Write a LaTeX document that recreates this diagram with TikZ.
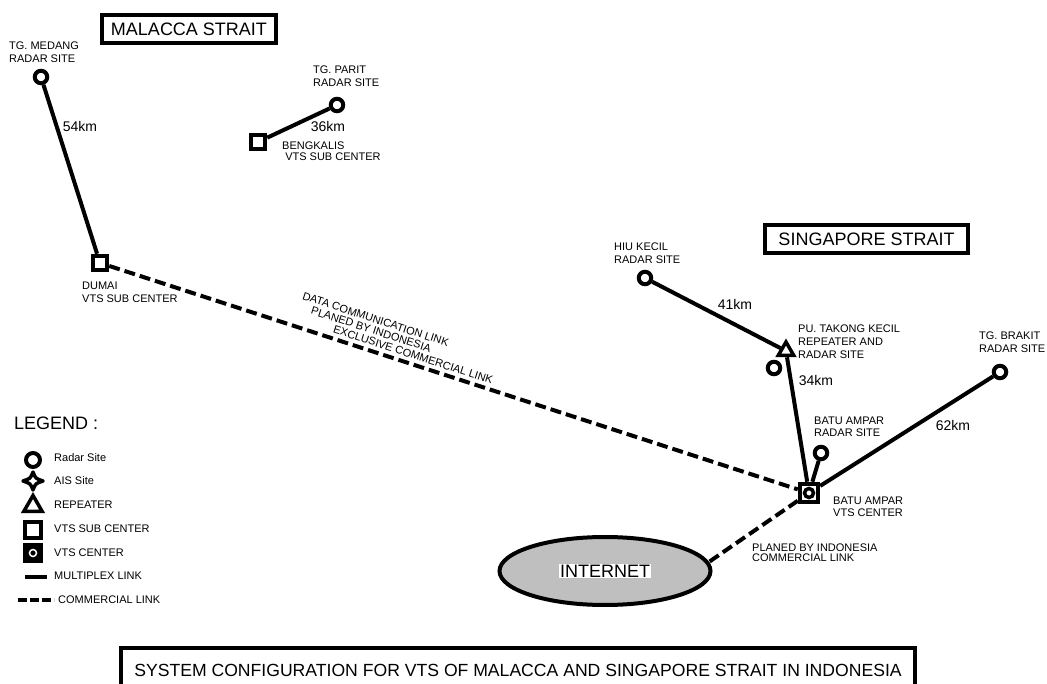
\documentclass[tikz,border=0pt]{standalone}
\usepackage{fontspec}
\setmainfont{Liberation Sans}
\usetikzlibrary{shapes.geometric}

\begin{document}
\begin{tikzpicture}[x=1pt, y=-1pt,
    radar/.style={draw, shape=circle, fill=white, line width=4pt, inner sep=0,
    minimum size=12.5pt},
    subcenter/.style={draw, shape=rectangle, fill=white, line width=4.5pt,
    inner sep=0, minimum size=14pt},
    vtscenter/.style={draw, shape=rectangle, fill=white, line width=4.5pt,
    inner sep=0, minimum size=18pt, path picture={\draw[line width=3.5pt]
    (path picture bounding box.center) circle[radius=4.5pt];}},
    repeater/.style={draw, shape=regular polygon, regular polygon sides=3,
    line width=3.5pt, inner sep=0, minimum size=18pt},
    lbl/.style={inner sep=0, anchor=west, align=left,
    font=\fontsize{11}{13}\selectfont},
    km/.style={inner sep=0, font=\fontsize{14}{16}\selectfont},
    titlebox/.style={draw, line width=4pt, inner sep=0,
    font=\fontsize{18}{20}\selectfont},
    link/.style={line width=4pt},
    comm/.style={line width=4pt, dash pattern=on 11pt off 5pt}]

    \clip (0, 0) rectangle (1047, 684);

    % Titles
    \node[titlebox, minimum width=174pt, minimum height=28pt] (malacca)
    at (189, 29) {MALACCA STRAIT};
    \node[titlebox, minimum width=203pt, minimum height=28pt] (singapore)
    at (866.5, 239) {SINGAPORE STRAIT};
    \node[titlebox, minimum width=794pt, minimum height=44pt,
    font=\fontsize{17.6}{20}\selectfont] (config) at (518, 670)
    {SYSTEM CONFIGURATION FOR VTS OF MALACCA AND SINGAPORE STRAIT IN INDONESIA};

    % Sites
    \node[radar] (medang) at (41, 77) {};
    \node[radar] (parit) at (337, 105) {};
    \node[subcenter] (bengkalis) at (258, 142) {};
    \node[subcenter] (dumai) at (100, 263) {};
    \node[radar] (hiu) at (645, 278) {};
    \node[repeater] (takong) at (786, 351) {};
    \node[radar] (takongradar) at (774, 368) {};
    \node[radar] (brakit) at (1000, 372) {};
    \node[radar] (amparradar) at (821, 453) {};
    \node[vtscenter] (ampar) at (809, 493) {};
    \node[draw, shape=ellipse, fill=gray!50, line width=4pt,
    minimum width=211pt, minimum height=68pt] (internet) at (605, 571) {};
    \node[fill=white, inner sep=1pt, font=\fontsize{18}{20}\selectfont]
    (internettxt) at (internet.center) {INTERNET};

    % Site labels
    \node[lbl] (medangtxt) at (9, 52.5) {TG. MEDANG\\RADAR SITE};
    \node[lbl] (parittxt) at (313, 76.5) {TG. PARIT\\RADAR SITE};
    \node[lbl] (bengkalistxt) at (282, 151.5)
    {BENGKALIS\\[-1.7pt]\ VTS SUB CENTER};
    \node[lbl] (dumaitxt) at (82, 292.5) {DUMAI\\VTS SUB CENTER};
    \node[lbl] (hiutxt) at (614, 253.5) {HIU KECIL\\RADAR SITE};
    \node[lbl] (takongtxt) at (798, 342) {PU. TAKONG KECIL\\REPEATER AND\\RADAR SITE};
    \node[lbl] (brakittxt) at (979, 342.5) {TG. BRAKIT\\RADAR SITE};
    \node[lbl] (amparradartxt) at (814, 427) {BATU AMPAR\\[-1pt]RADAR SITE};
    \node[lbl] (ampartxt) at (833, 507) {BATU AMPAR\\[-1pt]VTS CENTER};
    \node[lbl, font=\fontsize{11}{10}\selectfont] (commtxt) at (752, 553)
    {PLANED BY INDONESIA\\COMMERCIAL LINK};

    % Distances
    \node[km] (km54) at (80, 127) {54km};
    \node[km] (km36) at (328, 127) {36km};
    \node[km] (km41) at (735, 304) {41km};
    \node[km] (km34) at (816, 380) {34km};
    \node[km] (km62) at (953, 425) {62km};

    % Lines
    \draw[link] (medang) -- (dumai);
    \draw[link] (parit) -- (bengkalis);
    \draw[link] (hiu) -- (takong);
    \draw[link] (takong) -- (ampar);
    \draw[link] (brakit) -- (ampar);
    \draw[link] (amparradar) -- (ampar);
    \draw[comm] (dumai) -- (ampar)
    node[pos=0.41, sloped, above, inner sep=3.5pt, align=left,
    font=\fontsize{11}{11}\selectfont] (datatxt)
    {DATA COMMUNICATION LINK\\\hspace*{12.5pt}PLANED BY INDONESIA\\
    \hspace*{39.5pt}EXCLUSIVE COMMERCIAL LINK};
    \draw[comm] (ampar) -- (internet.5);

    % Legend
    \node[inner sep=0, anchor=west, font=\fontsize{18}{20}\selectfont]
    (legend) at (14, 423) {LEGEND :};
    \node[radar, minimum size=14pt] (lgradar) at (33, 460) {};
    \draw[line width=3.5pt, line join=round]
    (33, 472) .. controls (35.5, 478.5) .. (43, 481)
    .. controls (35.5, 483.5) .. (33, 490)
    .. controls (30.5, 483.5) .. (23, 481)
    .. controls (30.5, 478.5) .. (33, 472) -- cycle;
    \node[repeater, minimum size=21pt] (lgrepeater) at (33, 506) {};
    \node[subcenter, minimum size=16pt] (lgsub) at (33, 530) {};
    \node[draw, shape=rectangle, fill=black, line width=1pt, inner sep=0,
    minimum size=19pt, path picture={\draw[white, line width=1.5pt]
    (path picture bounding box.center) circle[radius=3.5pt];}]
    (lgvts) at (33, 553) {};
    \coordinate (mla) at (25, 577);
    \coordinate (mlb) at (47, 577);
    \coordinate (cla) at (18, 600);
    \coordinate (clb) at (54, 600);
    \draw[link] (mla) -- (mlb);
    \draw[comm, dash pattern=on 9pt off 3pt] (cla) -- (clb);

    \node[lbl] (lgradartxt) at (54, 458) {Radar Site};
    \node[lbl] (lgaistxt) at (54, 481) {AIS Site};
    \node[lbl] (lgrepeatertxt) at (54, 505) {REPEATER};
    \node[lbl] (lgsubtxt) at (54, 529) {VTS SUB CENTER};
    \node[lbl] (lgvtstxt) at (54, 553) {VTS CENTER};
    \node[lbl] (lgmltxt) at (54, 576) {MULTIPLEX LINK};
    \node[lbl] (lgcltxt) at (58, 600) {COMMERCIAL LINK};

\end{tikzpicture}
\end{document}
